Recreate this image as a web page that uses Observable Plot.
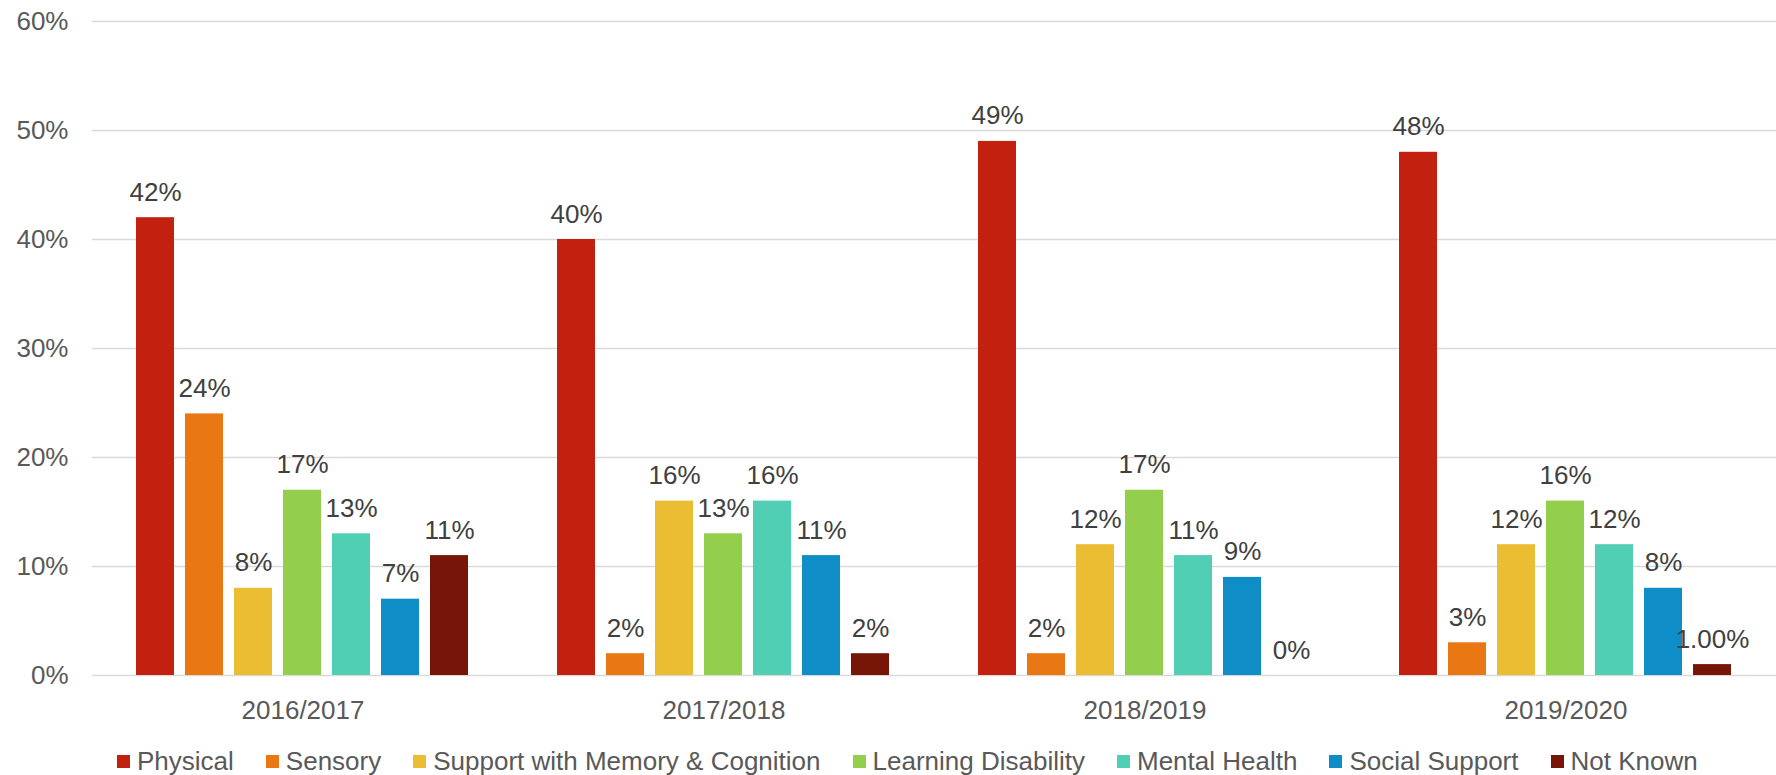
<!DOCTYPE html>
<html><head><meta charset="utf-8">
<script src="https://cdn.jsdelivr.net/npm/d3@7"></script>
<script src="https://cdn.jsdelivr.net/npm/@observablehq/plot@0.6"></script>
<style>
body{margin:0;background:#fff;font-family:"Liberation Sans",Arial,sans-serif;}
#wrap{position:relative;width:1776px;height:775px;overflow:hidden}
#legend{position:absolute;left:117px;top:746px;display:flex;gap:32px;font-size:26px;line-height:30px;color:#595959;white-space:nowrap}
.item{display:flex;align-items:center}
.sw{width:13px;height:13px;margin-right:7px}
</style></head><body><div id="wrap"><div id="chart"></div><div id="legend"></div></div>
<script>
const years = ["2016/2017","2017/2018","2018/2019","2019/2020"];
const categories = ["Physical","Sensory","Support with Memory & Cognition","Learning Disability","Mental Health","Social Support","Not Known"];
const colors = ["#C3210F","#E97713","#EBBD33","#93CF4D","#50CFB4","#0F8DC6","#771509"];
const physical = [42,40,49,48];
const sensory = [24,2,2,3];
const memoryCognition = [8,16,12,12];
const learningDisability = [17,13,17,16];
const mentalHealth = [13,16,11,12];
const socialSupport = [7,11,9,8];
const notKnown = [11,2,0,1];
const notKnownLabels = ["11%","2%","0%","1.00%"];
const yTicks = [0,10,20,30,40,50,60];

const series = [physical, sensory, memoryCognition, learningDisability, mentalHealth, socialSupport, notKnown];
const data = [];
years.forEach((yr, i) => {
  categories.forEach((c, j) => {
    const v = series[j][i];
    const label = c === "Not Known" ? notKnownLabels[i] : v + "%";
    data.push({year: yr, category: c, value: v, label});
  });
});

const chart = Plot.plot({
  width: 1776,
  height: 730,
  marginLeft: 91,
  marginRight: 0,
  marginTop: 21,
  marginBottom: 55,
  style: {fontSize: "26px", fontFamily: "'Liberation Sans', Arial, sans-serif", color: "#595959", background: "#fff"},
  fx: {domain: years, padding: 0, label: null},
  x: {domain: categories, paddingInner: 0.22, paddingOuter: 0.885, axis: null},
  y: {domain: [0, 60], label: null},
  color: {domain: categories, range: colors},
  marks: [
    Plot.gridY(yTicks, {stroke: "#d9d9d9", strokeOpacity: 1, strokeWidth: 1.6}),
    Plot.axisY(yTicks, {tickSize: 0, tickPadding: 24, tickFormat: d => d + "%", label: null, fill: "#595959"}),
    Plot.axisFx({anchor: "bottom", tickSize: 0, tickPadding: 25, label: null, fill: "#595959"}),
    Plot.barY(data, {fx: "year", x: "category", y: "value", fill: "category"}),
    Plot.text(data, {fx: "year", x: "category", y: "value", text: "label", lineAnchor: "bottom", dy: -17, fill: "#404040"})
  ]
});
document.getElementById("chart").appendChild(chart);

const legend = document.getElementById("legend");
categories.forEach((c, j) => {
  const it = document.createElement("div");
  it.className = "item";
  const sw = document.createElement("span");
  sw.className = "sw";
  sw.style.background = colors[j];
  const t = document.createElement("span");
  t.textContent = c;
  it.appendChild(sw); it.appendChild(t);
  legend.appendChild(it);
});
</script></body></html>
